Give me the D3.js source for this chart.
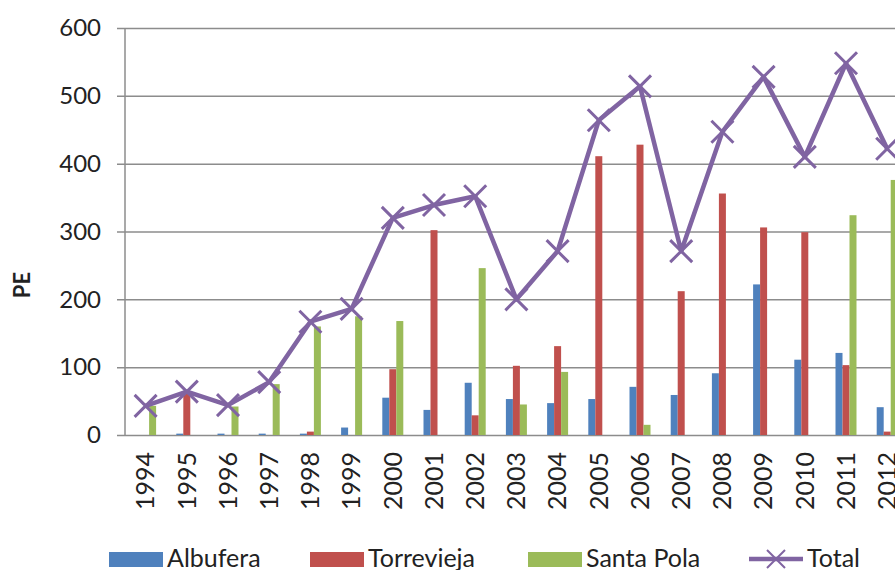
<!DOCTYPE html>
<html>
<head>
<meta charset="utf-8">
<script src="https://cdn.jsdelivr.net/npm/d3@7"></script>
<style>
  body { margin: 0; background: #fff; }
  svg { display: block; font-family: Lato, "Open Sans", sans-serif; }
</style>
</head>
<body>
<div id="container"></div>
<script>
const years = ["1994","1995","1996","1997","1998","1999","2000","2001","2002","2003","2004","2005","2006","2007","2008","2009","2010","2011","2012"];
const albufera   = [0, 2, 2, 2, 2, 11, 55, 37, 77, 53, 47, 53, 71, 59, 91, 222, 111, 121, 41];
const torrevieja = [0, 62, 0, 0, 5, 0, 97, 302, 29, 102, 131, 411, 428, 212, 356, 306, 299, 103, 5];
const santaPola  = [43, 0, 42, 75, 160, 175, 168, 0, 246, 45, 93, 0, 15, 0, 0, 0, 0, 324, 376];
const total      = [43, 64, 44, 78, 167, 186, 320, 339, 352, 200, 271, 464, 514, 271, 447, 528, 410, 548, 422];
const seriesNames = ["Albufera", "Torrevieja", "Santa Pola"];
const yTicks = [0, 100, 200, 300, 400, 500, 600];

const WIDTH = 895, HEIGHT = 570;
const plotLeft = 125, plotTop = 28, plotBottom = 435;
const bandW = 41.2;
const plotRight = plotLeft + bandW * years.length;

const colors = { "Albufera": "#4F81BD", "Torrevieja": "#C0504D", "Santa Pola": "#9BBB59", "Total": "#8064A2" };
const barData = [albufera, torrevieja, santaPola];

const svg = d3.select("#container").append("svg")
  .attr("width", WIDTH).attr("height", HEIGHT);

const x = d3.scaleBand().domain(years).range([plotLeft, plotRight]);
const sub = d3.scaleBand().domain(seriesNames).range([-10.5, 10.5]);
const y = d3.scaleLinear().domain([0, 600]).range([plotBottom, plotTop]);

// gridlines + y axis
const yAxis = d3.axisLeft(y).tickValues(yTicks).tickSize(8).tickPadding(16);
const ga = svg.append("g").attr("transform", `translate(${plotLeft},0)`).call(yAxis);
ga.select(".domain").remove();
ga.selectAll(".tick line").attr("x1", -8).attr("x2", plotRight - plotLeft).attr("stroke", "#8c8c8c").attr("stroke-width", 1.5);
ga.selectAll(".tick text").attr("font-size", 24).attr("fill", "#222").attr("font-family", "Lato, sans-serif");

svg.append("line").attr("x1", plotLeft).attr("x2", plotLeft).attr("y1", plotTop).attr("y2", plotBottom)
  .attr("stroke", "#8c8c8c").attr("stroke-width", 1.5);

// bars
seriesNames.forEach((name, si) => {
  svg.append("g").selectAll("rect")
    .data(barData[si])
    .enter().append("rect")
    .attr("x", (d, i) => x(years[i]) + x.bandwidth() / 2 + sub(name))
    .attr("y", d => y(d))
    .attr("width", sub.bandwidth())
    .attr("height", d => y(0) - y(d))
    .attr("fill", colors[name]);
});

// x axis labels
svg.append("g").selectAll("text")
  .data(years).enter().append("text")
  .attr("transform", d => `translate(${x(d) + x.bandwidth() / 2},452) rotate(-90)`)
  .attr("text-anchor", "end")
  .attr("dy", "0.35em")
  .attr("font-size", 25)
  .attr("fill", "#222")
  .text(d => d);

// total line
const line = d3.line().x((d, i) => x(years[i]) + x.bandwidth() / 2).y(d => y(d));
svg.append("path").datum(total)
  .attr("d", line).attr("fill", "none")
  .attr("stroke", colors.Total).attr("stroke-width", 4.5).attr("stroke-linejoin", "round");

const m = 11;
svg.append("g").selectAll("path")
  .data(total).enter().append("path")
  .attr("d", (d, i) => {
    const cx = x(years[i]) + x.bandwidth() / 2, cy = y(d);
    return `M${cx - m},${cy - m}L${cx + m},${cy + m}M${cx - m},${cy + m}L${cx + m},${cy - m}`;
  })
  .attr("stroke", colors.Total).attr("stroke-width", 3);

// y title
svg.append("text")
  .attr("transform", "translate(22,285) rotate(-90)")
  .attr("text-anchor", "middle").attr("dy", "0.35em")
  .attr("font-size", 22).attr("font-weight", "bold").attr("fill", "#222")
  .text("PE");

// legend
const legendItems = [
  { name: "Albufera", x: 109 },
  { name: "Torrevieja", x: 310 },
  { name: "Santa Pola", x: 528 },
  { name: "Total", x: 749 }
];
const lg = svg.append("g");
legendItems.forEach(it => {
  if (it.name === "Total") {
    lg.append("line").attr("x1", it.x).attr("x2", it.x + 54).attr("y1", 559).attr("y2", 559)
      .attr("stroke", colors.Total).attr("stroke-width", 4.5);
    const cx = it.x + 27;
    lg.append("path").attr("d", `M${cx - 9},${550}L${cx + 9},${568}M${cx - 9},${568}L${cx + 9},${550}`)
      .attr("stroke", colors.Total).attr("stroke-width", 2);
  } else {
    lg.append("rect").attr("x", it.x).attr("y", 552).attr("width", 54).attr("height", 15)
      .attr("fill", colors[it.name]);
  }
  lg.append("text").attr("x", it.x + 58).attr("y", 567)
    .attr("font-size", 25).attr("fill", "#222").text(it.name);
});
</script>
</body>
</html>
